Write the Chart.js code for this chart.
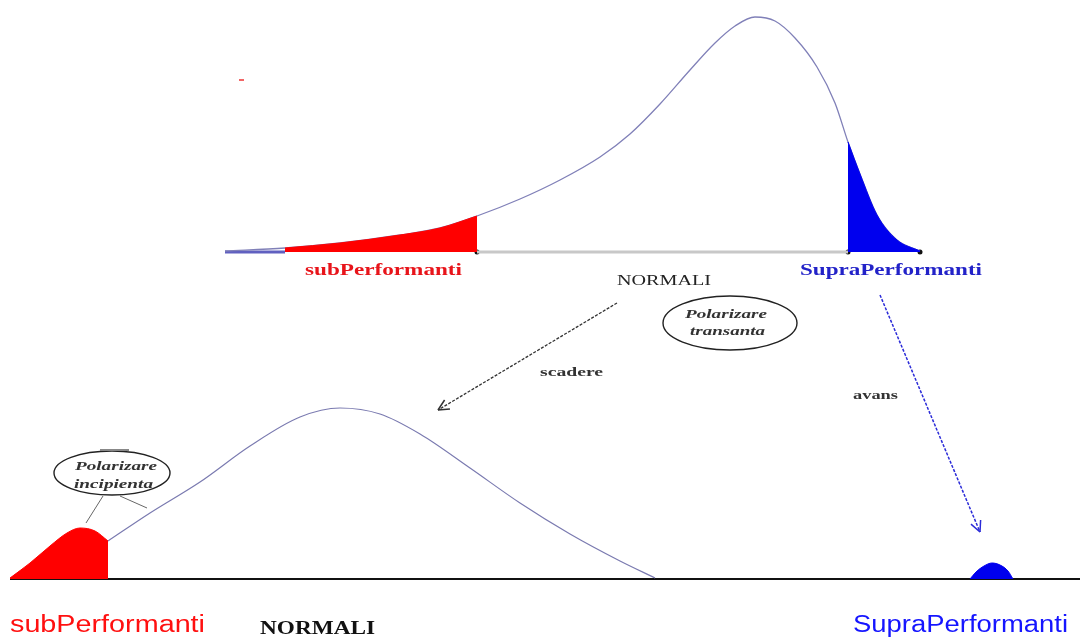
<!DOCTYPE html>
<html>
<head>
<meta charset="utf-8">
<script src="https://cdn.jsdelivr.net/npm/chart.js@4.4.1/dist/chart.umd.min.js"></script>
<style>
  html, body { margin: 0; padding: 0; background: #fff; }
  #wrap { width: 1080px; height: 637px; }
</style>
</head>
<body>
<div id="wrap"><canvas id="diagram" width="1080" height="637"></canvas></div>
<script>
// diagram coordinates (x along the distribution, y measured downward like the picture)

// upper distribution (before)
const upperCurve = [[225,251],[285,248],[340,243],[400,235],[440,228],[477,216],[520,199],[560,180],[600,157],[630,134],[660,104],[690,70],[715,43],[735,26],[755,17],[775,21],[795,38],[817,67],[835,103],[848,142],[860,174],[877,215],[897,240],[920,251]];
const upperSub = [[285,248],[340,243],[400,235],[440,228],[477,216]];
const upperSupra = [[848,142],[860,174],[877,215],[897,240],[920,251]];
const upperBaseY = 252;

// lower distribution (after)
const lowerSub = [[10,578],[30,563],[50,546],[67,533],[80,528],[95,531],[108,541]];
const lowerCurve = [[108,541],[150,513],[200,482],[250,446],[300,417],[340,408],[380,414],[420,434],[470,468],[520,503],[570,534],[620,561],[655,578]];
const lowerSupra = [[970,579],[976,572],[984,566],[992,563],[1000,565],[1008,571],[1013,579]];
const lowerBaseY = 579;

// arrows: from NORMALI down to the lower groups
const arrowScadere = [[617,303],[438,410]];
const arrowAvans = [[880,295],[980,532]];

const pts = a => a.map(p => ({ x: p[0], y: p[1] }));

const labels = [
  // text, x, baseline y, width, font, colour
  ['subPerformanti', 305, 275, 157, 'bold 16px "Liberation Serif"', '#e8141a'],
  ['NORMALI', 617, 285, 94, '14px "Liberation Serif"', '#222'],
  ['SupraPerformanti', 800, 275, 182, 'bold 16px "Liberation Serif"', '#2222c8'],
  ['scadere', 540, 376, 63, 'bold 12px "Liberation Serif"', '#333'],
  ['avans', 853, 399, 45, 'bold 12px "Liberation Serif"', '#333'],
  ['Polarizare', 685, 318, 82, 'bold italic 13px "Liberation Serif"', '#333'],
  ['transanta', 690, 335, 75, 'bold italic 13px "Liberation Serif"', '#333'],
  ['Polarizare', 75, 470, 82, 'bold italic 13px "Liberation Serif"', '#333'],
  ['incipienta', 74, 488, 79, 'bold italic 13px "Liberation Serif"', '#333'],
  ['subPerformanti', 10, 632, 195, '23px "Liberation Sans"', '#ff1010'],
  ['NORMALI', 260, 634, 115, 'bold 19px "Liberation Serif"', '#111'],
  ['SupraPerformanti', 853, 632, 215, '23px "Liberation Sans"', '#1515ff']
];

const ellipses = [
  // cx, cy, rx, ry
  [730, 323, 67, 27],
  [112, 473, 58, 22]
];

const extras = {
  id: 'extras',
  afterDatasetsDraw(chart) {
    const { ctx, scales: { x, y } } = chart;
    const px = v => x.getPixelForValue(v);
    const py = v => y.getPixelForValue(v);
    ctx.save();

    // ellipses round the italic notes
    ctx.strokeStyle = '#222';
    ctx.lineWidth = 1.4;
    ellipses.forEach(e => {
      ctx.beginPath();
      ctx.ellipse(px(e[0]), py(e[1]), Math.abs(px(e[0] + e[2]) - px(e[0])), Math.abs(py(e[1] + e[3]) - py(e[1])), 0, 0, Math.PI * 2);
      ctx.stroke();
    });
    // little grey tick on top of the lower ellipse
    ctx.strokeStyle = '#888';
    ctx.lineWidth = 2;
    ctx.beginPath(); ctx.moveTo(px(100), py(450)); ctx.lineTo(px(129), py(450)); ctx.stroke();
    // stray red mark
    ctx.strokeStyle = '#e33';
    ctx.lineWidth = 1.5;
    ctx.beginPath(); ctx.moveTo(px(239), py(80)); ctx.lineTo(px(244), py(80)); ctx.stroke();

    // arrow heads
    const head = (a, colour) => {
      const [x0, y0] = [px(a[0][0]), py(a[0][1])];
      const [x1, y1] = [px(a[1][0]), py(a[1][1])];
      const ang = Math.atan2(y1 - y0, x1 - x0);
      ctx.strokeStyle = colour;
      ctx.lineWidth = 1.5;
      ctx.setLineDash([]);
      ctx.beginPath();
      [0.45, -0.45].forEach(d => {
        ctx.moveTo(x1, y1);
        ctx.lineTo(x1 - 12 * Math.cos(ang + d), y1 - 12 * Math.sin(ang + d));
      });
      ctx.stroke();
    };
    head(arrowScadere, '#333');
    head(arrowAvans, '#2b2bd8');

    // labels, stretched to the width they take in the picture
    ctx.textBaseline = 'alphabetic';
    ctx.textAlign = 'left';
    labels.forEach(l => {
      ctx.font = l[4];
      ctx.fillStyle = l[5];
      const w = ctx.measureText(l[0]).width;
      ctx.save();
      ctx.translate(px(l[1]), py(l[2]));
      ctx.scale(l[3] / w, 1);
      ctx.fillText(l[0], 0, 0);
      ctx.restore();
    });
    ctx.restore();
  }
};

const line = (data, colour, width, extra) => Object.assign({
  data: pts(data), showLine: true, borderColor: colour, borderWidth: width,
  pointRadius: 0, fill: false, cubicInterpolationMode: 'monotone'
}, extra || {});

new Chart(document.getElementById('diagram'), {
  type: 'scatter',
  data: {
    datasets: [
      // upper distribution
      line(upperSub, '#ff0000', 1, { backgroundColor: '#ff0000', fill: { value: upperBaseY } }),
      line(upperSupra, '#0000ee', 1, { backgroundColor: '#0000ee', fill: { value: upperBaseY } }),
      line(upperCurve, '#8080b8', 1.3),
      line([[225, upperBaseY], [285, upperBaseY]], '#6060c0', 3),
      line([[477, upperBaseY], [848, upperBaseY]], '#c8c8c8', 3),
      line([[477, upperBaseY], [848, upperBaseY], [920, upperBaseY]], '#111', 0, { pointRadius: 2.5, pointBackgroundColor: '#111', showLine: false }),
      // lower distribution
      line(lowerSub, '#ff0000', 1, { backgroundColor: '#ff0000', fill: { value: lowerBaseY } }),
      line(lowerCurve, '#7a7ab0', 1.2),
      line(lowerSupra, '#0000ee', 1, { backgroundColor: '#0000ee', fill: { value: lowerBaseY } }),
      line([[10, lowerBaseY], [1080, lowerBaseY]], '#111', 2),
      // connectors from the lower ellipse to the red bump
      line([[103, 496], [86, 523]], '#666', 1),
      line([[120, 496], [147, 508]], '#666', 1),
      // arrow shafts
      line(arrowScadere, '#333', 1.3, { borderDash: [3, 1.5] }),
      line(arrowAvans, '#2b2bd8', 1.5, { borderDash: [3, 1.5] })
    ]
  },
  options: {
    responsive: false,
    animation: false,
    layout: { padding: 0, autoPadding: false },
    plugins: { legend: { display: false }, tooltip: { enabled: false } },
    scales: {
      x: { type: 'linear', min: 0, max: 1080, display: false },
      y: { type: 'linear', min: 0, max: 637, reverse: true, display: false }
    }
  },
  plugins: [extras]
});
</script>
</body>
</html>
